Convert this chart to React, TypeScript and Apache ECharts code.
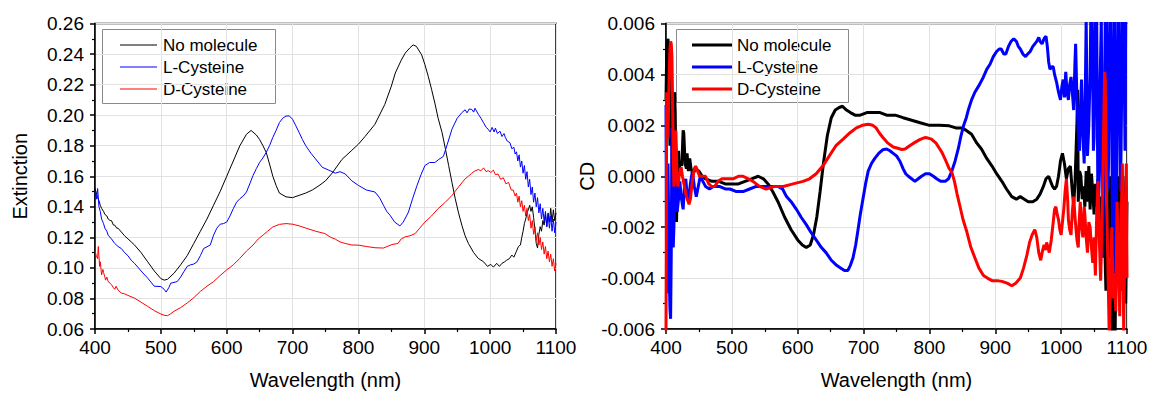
import React, { useEffect, useRef } from "react";
import * as echarts from "echarts";

const FONT = "Liberation Sans, Arial, sans-serif";

const seriesNames = ["No molecule", "L-Cysteine", "D-Cysteine"];
const seriesColors = ["#000000", "#0000ff", "#ff0000"];

const xTicks = { min: 400, max: 1100, interval: 100 };
const extTicks = { min: 0.06, max: 0.26, interval: 0.02 };
const cdTicks = { min: -0.006, max: 0.006, interval: 0.002 };

// Extinction spectra (wavelength nm, extinction)
const extNoMolecule: [number, number][] = [
  [400, 0.152], [402, 0.149], [404, 0.146], [406, 0.144], [408, 0.141], [410, 0.139], [413, 0.137], [415, 0.135], [418, 0.134],
  [420, 0.132], [423, 0.131], [425, 0.131], [428, 0.128], [430, 0.128], [433, 0.126], [435, 0.126], [440, 0.1235], [445, 0.121],
  [450, 0.119], [455, 0.117], [460, 0.115], [470, 0.11], [480, 0.104], [490, 0.098], [500, 0.093], [505, 0.092], [510, 0.0925],
  [520, 0.0965], [530, 0.102], [540, 0.108], [550, 0.116], [560, 0.124], [570, 0.132], [580, 0.141], [590, 0.15], [600, 0.16],
  [610, 0.17], [620, 0.18], [630, 0.1875], [637, 0.19], [645, 0.187], [650, 0.184], [655, 0.18], [660, 0.1756], [665, 0.168],
  [670, 0.16], [675, 0.154], [680, 0.149], [690, 0.1465], [700, 0.146], [710, 0.1475], [720, 0.149], [730, 0.151], [740, 0.1538],
  [750, 0.157], [760, 0.162], [775, 0.171], [790, 0.177], [800, 0.181], [810, 0.186], [825, 0.194], [840, 0.207], [850, 0.219],
  [856, 0.2276], [865, 0.236], [871, 0.2406], [878, 0.244], [883, 0.246], [888, 0.245], [896, 0.2395], [901, 0.233], [906, 0.2254],
  [911, 0.217], [916, 0.208], [921, 0.198], [927, 0.1886], [932, 0.178], [937, 0.167], [942, 0.156], [947, 0.1453], [952, 0.136],
  [957, 0.128], [962, 0.121], [967, 0.116], [975, 0.11], [982, 0.1062], [990, 0.104], [996, 0.101], [1001, 0.1023], [1005, 0.1005],
  [1010, 0.103], [1014, 0.101], [1018, 0.103], [1022, 0.104], [1025, 0.105], [1029, 0.106], [1033, 0.1084], [1036, 0.107],
  [1040, 0.111], [1043, 0.114], [1046, 0.115], [1048, 0.12], [1050, 0.124], [1052, 0.129], [1054, 0.132], [1056, 0.136],
  [1058, 0.138], [1060, 0.141], [1062, 0.137], [1064, 0.14], [1066, 0.133], [1068, 0.125], [1070, 0.116], [1072, 0.113],
  [1074, 0.122], [1076, 0.127], [1078, 0.124], [1080, 0.131], [1082, 0.128], [1084, 0.135], [1086, 0.127], [1088, 0.136],
  [1090, 0.13], [1092, 0.139], [1094, 0.13], [1096, 0.138], [1098, 0.131], [1100, 0.136],
];

const extLCysteine: [number, number][] = [
  [400, 0.15], [402, 0.145], [404, 0.152], [406, 0.14], [408, 0.137], [410, 0.132], [413, 0.129], [415, 0.126], [418, 0.124],
  [420, 0.1214], [425, 0.119], [430, 0.116], [435, 0.114], [440, 0.1127], [445, 0.11], [450, 0.108], [455, 0.105], [460, 0.103],
  [470, 0.098], [480, 0.0933], [490, 0.088], [500, 0.0878], [505, 0.086], [508, 0.0842], [512, 0.087], [515, 0.09], [520, 0.0905],
  [525, 0.0911], [530, 0.094], [535, 0.0976], [540, 0.101], [545, 0.102], [550, 0.1025], [555, 0.104], [560, 0.108], [565, 0.1127],
  [570, 0.1138], [575, 0.115], [580, 0.1214], [585, 0.126], [590, 0.1286], [595, 0.129], [600, 0.13], [605, 0.134], [610, 0.1388],
  [615, 0.143], [620, 0.1453], [625, 0.147], [630, 0.1497], [635, 0.155], [640, 0.1605], [645, 0.165], [650, 0.1691], [655, 0.172],
  [660, 0.1756], [665, 0.18], [670, 0.1854], [675, 0.19], [680, 0.1951], [685, 0.198], [690, 0.1994], [695, 0.1995], [700, 0.1973],
  [705, 0.193], [710, 0.1886], [715, 0.184], [720, 0.18], [728, 0.175], [735, 0.1713], [745, 0.1659], [755, 0.164], [765, 0.162],
  [772, 0.163], [780, 0.1615], [790, 0.157], [800, 0.154], [812, 0.151], [825, 0.1497], [832, 0.146], [838, 0.141], [843, 0.137],
  [848, 0.1345], [855, 0.13], [863, 0.1275], [868, 0.13], [873, 0.134], [876, 0.1366], [882, 0.145], [889, 0.154], [895, 0.161],
  [901, 0.167], [908, 0.169], [916, 0.169], [922, 0.171], [929, 0.173], [935, 0.181], [942, 0.1908], [950, 0.198], [957, 0.2016],
  [962, 0.2035], [965, 0.2015], [968, 0.204], [972, 0.2038], [975, 0.202], [977, 0.2045], [982, 0.2006], [986, 0.198], [990, 0.195],
  [994, 0.192], [997, 0.1908], [1000, 0.189], [1003, 0.192], [1006, 0.189], [1008, 0.1915], [1011, 0.188], [1015, 0.1895],
  [1018, 0.186], [1021, 0.188], [1023, 0.1855], [1026, 0.183], [1030, 0.182], [1033, 0.178], [1036, 0.179], [1038, 0.1745],
  [1040, 0.176], [1042, 0.17], [1044, 0.174], [1046, 0.166], [1048, 0.17], [1050, 0.162], [1052, 0.167], [1054, 0.158],
  [1056, 0.163], [1058, 0.153], [1060, 0.158], [1062, 0.148], [1064, 0.153], [1066, 0.143], [1068, 0.149], [1070, 0.14],
  [1072, 0.146], [1074, 0.136], [1076, 0.142], [1078, 0.132], [1080, 0.139], [1082, 0.13], [1084, 0.137], [1086, 0.127],
  [1088, 0.135], [1090, 0.126], [1092, 0.134], [1094, 0.124], [1096, 0.132], [1098, 0.123], [1100, 0.13],
];

const extDCysteine: [number, number][] = [
  [400, 0.111], [402, 0.108], [404, 0.106], [405, 0.114], [407, 0.101], [408, 0.104], [410, 0.0954], [412, 0.099], [413, 0.097],
  [415, 0.094], [416, 0.092], [418, 0.094], [420, 0.091], [423, 0.09], [425, 0.089], [428, 0.087], [430, 0.086], [432, 0.088],
  [435, 0.0855], [440, 0.0835], [445, 0.083], [450, 0.082], [460, 0.0802], [470, 0.0775], [480, 0.0748], [490, 0.072], [500, 0.0698],
  [505, 0.069], [510, 0.0687], [515, 0.07], [520, 0.0716], [530, 0.074], [540, 0.077], [550, 0.0805], [560, 0.0846], [570, 0.088],
  [580, 0.091], [590, 0.095], [600, 0.0987], [610, 0.102], [620, 0.1063], [630, 0.111], [640, 0.115], [648, 0.119], [655, 0.1214],
  [662, 0.124], [670, 0.1268], [680, 0.1285], [690, 0.129], [700, 0.1286], [710, 0.1275], [720, 0.1261], [735, 0.124], [749, 0.1225],
  [758, 0.12], [765, 0.1188], [772, 0.117], [780, 0.116], [790, 0.115], [800, 0.1149], [812, 0.114], [825, 0.1132], [838, 0.113],
  [851, 0.1153], [860, 0.116], [865, 0.119], [871, 0.1203], [878, 0.121], [886, 0.1224], [893, 0.126], [901, 0.13], [911, 0.134],
  [921, 0.1388], [932, 0.143], [942, 0.1474], [952, 0.153], [962, 0.1583], [967, 0.16], [972, 0.162], [977, 0.1635], [982, 0.1644],
  [986, 0.1635], [990, 0.1655], [994, 0.163], [997, 0.1637], [1001, 0.1625], [1005, 0.164], [1008, 0.161], [1012, 0.1615],
  [1016, 0.158], [1020, 0.159], [1024, 0.155], [1028, 0.156], [1032, 0.151], [1035, 0.151], [1038, 0.147],
  [1040, 0.149], [1042, 0.143], [1044, 0.147], [1046, 0.14], [1048, 0.144], [1050, 0.137], [1052, 0.141], [1054, 0.134],
  [1056, 0.139], [1058, 0.131], [1060, 0.135], [1062, 0.126], [1064, 0.131], [1066, 0.122], [1068, 0.127], [1070, 0.118],
  [1072, 0.123], [1074, 0.115], [1076, 0.12], [1078, 0.112], [1080, 0.117], [1082, 0.109], [1084, 0.114], [1086, 0.106],
  [1088, 0.111], [1090, 0.104], [1092, 0.109], [1094, 0.101], [1096, 0.106], [1098, 0.098], [1100, 0.103],
];

// CD spectra (wavelength nm, CD)
const cdNoMolecule: [number, number][] = [
  [400, 0.003], [401, 0.0048], [402, 0.0053], [403, 0.0054], [404, 0.005], [405, 0.003], [406, 0.0012], [407, 0.0036], [408, 0.004],
  [409, 0.0015], [410, -0.0008], [411, 0.001], [412, 0.003], [413, 0.0033], [414, 0.0025], [415, 0.0002], [416, -0.0018],
  [417, -0.0005], [418, 0.0008], [419, 0.001], [420, 0.0003], [422, 0.0006], [424, 0.0004], [426, 0.0018], [427, 0.0017],
  [429, 0.0005], [431, 0.0003], [432, 0.0009], [434, 0.0002], [436, 0.0007], [438, 0.0003], [441, 0.0001], [445, 0.0003],
  [450, 0.0002], [455, 0.0], [460, -0.0001], [470, -0.0002], [480, -0.0002], [490, -0.0003], [500, -0.0003], [510, -0.0003],
  [520, -0.0002], [530, -0.0001], [540, 0.0], [548, -0.0001], [555, -0.0003], [562, -0.0006], [570, -0.001], [580, -0.0016],
  [590, -0.0021], [600, -0.0025], [607, -0.0027], [613, -0.0028], [619, -0.0027], [624, -0.0023], [629, -0.0016], [634, -0.0006],
  [639, 0.0005], [645, 0.0016], [651, 0.0023], [657, 0.0026], [663, 0.0027], [668, 0.00275], [674, 0.0026], [680, 0.0025],
  [687, 0.0024], [695, 0.0024], [705, 0.0025], [715, 0.0025], [725, 0.0025], [735, 0.0024], [748, 0.0024], [760, 0.0023],
  [773, 0.0022], [786, 0.0021], [800, 0.002], [815, 0.002], [830, 0.00198], [840, 0.0019], [849, 0.0019], [856, 0.0018],
  [864, 0.00165], [872, 0.0013], [879, 0.00107], [887, 0.0007], [895, 0.0004], [902, 0.0001], [910, -0.0002], [917, -0.0005],
  [925, -0.0008], [932, -0.0009], [938, -0.0008], [944, -0.0009], [950, -0.001], [957, -0.001], [963, -0.0009], [968, -0.0007],
  [973, -0.0004], [977, -0.0001], [981, 0.0], [984, -0.0002], [987, -0.0004], [990, -0.0005], [993, -0.0004], [996, 0.0],
  [999, 0.0006], [1002, 0.0009], [1005, 0.0005], [1008, -0.0001], [1011, 0.0003], [1014, 0.0004], [1017, -0.0006], [1019, -0.0011],
  [1021, -0.0003], [1024, 0.0021], [1025, 0.0034], [1026, -0.001], [1028, 0.0002], [1030, 0.0], [1032, -0.0009], [1034, -0.0004],
  [1036, -0.0012], [1038, 0.0002], [1040, -0.001], [1042, 0.0004], [1044, -0.0013], [1046, 0.0001], [1048, -0.0006],
  [1050, -0.0015], [1052, -0.0003], [1054, -0.0012], [1056, -0.0001], [1058, -0.002], [1060, -0.0008], [1062, -0.003],
  [1064, 0.0008], [1066, -0.0024], [1068, -0.0045], [1070, -0.001], [1072, -0.0032], [1074, 0.0], [1076, -0.004], [1078, -0.0062],
  [1080, -0.002], [1082, -0.0062], [1084, -0.001], [1086, -0.0035], [1088, 0.0], [1090, -0.0015], [1092, -0.0045], [1094, 0.0],
  [1096, -0.002], [1098, -0.005], [1100, -0.001],
];

const cdLCysteine: [number, number][] = [
  [400, 0.0028], [401, -0.0046], [402, -0.002], [403, 0.0005], [404, -0.0015], [405, -0.004], [406, -0.0052], [407, -0.0056],
  [408, -0.003], [409, 0.0019], [410, 0.001], [411, -0.0028], [412, -0.002], [413, -0.0008], [414, 0.0002], [415, -0.0004],
  [417, -0.0014], [419, -0.0009], [421, -0.0002], [423, -0.0008], [426, -0.0013], [428, -0.0004], [430, -0.0001], [432, -0.0007],
  [434, -0.001], [437, -0.0003], [440, 0.0002], [443, -0.0004], [446, -0.0008], [449, -0.0004], [452, 0.0], [456, -0.0002],
  [460, -0.0004], [466, -0.0005], [472, -0.0004], [481, -0.0004], [490, -0.0005], [497, -0.0005], [507, -0.0006], [517, -0.0006],
  [527, -0.0005], [537, -0.0004], [547, -0.0004], [557, -0.0004], [570, -0.0004], [577, -0.0005], [583, -0.0008], [590, -0.001],
  [598, -0.0013], [605, -0.0016], [613, -0.0019], [620, -0.0022], [628, -0.0025], [636, -0.0028], [643, -0.003], [651, -0.0033],
  [659, -0.0035], [665, -0.0036], [671, -0.0037], [676, -0.0037], [680, -0.0035], [684, -0.0032], [688, -0.0027], [691, -0.0022],
  [695, -0.0015], [699, -0.0009], [703, -0.0003], [707, 0.0002], [712, 0.0005], [717, 0.0007], [723, 0.0009], [729, 0.00104],
  [735, 0.00107], [740, 0.001], [745, 0.0009], [750, 0.0008], [755, 0.0006], [760, 0.0003], [764, 0.0001], [768, 0.0],
  [773, -0.0001], [778, -0.0002], [783, -0.0001], [788, 0.0], [794, 0.0001], [800, 0.0001], [806, 0.0], [811, -0.0001],
  [817, -0.0002], [824, -0.0002], [829, -0.0001], [834, 0.0002], [839, 0.0006], [844, 0.0011], [848, 0.0016], [852, 0.002],
  [856, 0.0023], [859, 0.0026], [864, 0.003], [869, 0.0033], [876, 0.0036], [882, 0.0039], [887, 0.0042], [892, 0.0044],
  [897, 0.0047], [902, 0.0049], [906, 0.005], [909, 0.005], [913, 0.0048], [916, 0.0048], [920, 0.0051], [924, 0.0053],
  [928, 0.0054], [932, 0.0053], [935, 0.0051], [938, 0.005], [942, 0.0048], [946, 0.0047], [949, 0.0048], [953, 0.0049],
  [957, 0.0051], [960, 0.0052], [963, 0.0053], [966, 0.00545], [968, 0.0053], [971, 0.0052], [974, 0.0054], [977, 0.0055],
  [979, 0.0051], [981, 0.0045], [983, 0.0042], [986, 0.0043], [988, 0.0043], [990, 0.004], [993, 0.0037], [996, 0.0033],
  [999, 0.003], [1001, 0.0035], [1003, 0.0038], [1005, 0.0031], [1007, 0.0041], [1009, 0.0033], [1011, 0.003], [1013, 0.0036],
  [1015, 0.0039], [1017, 0.0033], [1019, 0.0026], [1021, 0.0045], [1022, 0.0052], [1024, 0.003], [1026, 0.0018], [1028, 0.001],
  [1029, 0.0025], [1031, 0.0038], [1033, 0.0016], [1035, 0.0005], [1037, 0.004], [1038, 0.0062], [1040, 0.0008], [1042, 0.002],
  [1044, 0.004], [1045, 0.0062], [1047, 0.0062], [1049, 0.001], [1050, 0.0015], [1052, 0.0062], [1054, 0.0062], [1056, -0.0017],
  [1058, 0.0005], [1059, 0.0035], [1061, 0.0062], [1063, -0.0032], [1065, 0.0015], [1067, 0.0062], [1069, 0.0062],
  [1071, -0.0005], [1072, 0.0005], [1074, 0.0062], [1076, 0.0062], [1078, -0.0022], [1080, 0.003], [1081, 0.0062],
  [1083, -0.0041], [1084, -0.001], [1086, 0.0062], [1088, 0.0062], [1090, -0.0006], [1091, 0.001], [1093, 0.0062],
  [1095, 0.0062], [1097, 0.001], [1098, 0.0062], [1100, 0.0062],
];

const cdDCysteine: [number, number][] = [
  [400, -0.0062], [400.5, -0.002], [401, 0.0033], [402, 0.003], [403, 0.0015], [404, 0.0028], [405, 0.0042], [406, 0.005],
  [407, 0.0053], [408, 0.0052], [409, 0.0047], [410, 0.003], [411, 0.0008], [412, -0.0004], [413, 0.0008], [414, 0.0017],
  [415, 0.0018], [416, 0.0008], [417, -0.0002], [418, -0.0004], [420, 0.0], [423, 0.00035], [425, 0.0], [428, -0.0004],
  [431, -0.0008], [435, -0.0011], [437, -0.0009], [440, -0.0002], [443, 0.0003], [445, 0.0004], [448, 0.0002], [451, 0.0],
  [455, 0.0], [460, 0.0], [465, -0.0003], [469, -0.0004], [474, -0.0004], [479, -0.0002], [485, -0.0001], [491, -0.0001],
  [502, -0.0001], [510, 0.0], [517, 0.0], [525, -0.0001], [532, -0.0002], [542, -0.0004], [552, -0.0005], [565, -0.0004],
  [578, -0.0004], [593, -0.0003], [608, -0.0002], [618, -0.0001], [628, 0.0001], [638, 0.0004], [648, 0.0008], [658, 0.0012],
  [669, 0.00146], [679, 0.0017], [689, 0.0019], [698, 0.002], [707, 0.00204], [714, 0.002], [719, 0.0019], [724, 0.0017],
  [730, 0.0015], [737, 0.0013], [745, 0.00115], [752, 0.0011], [758, 0.00105], [763, 0.00107], [770, 0.0012], [778, 0.00133],
  [786, 0.00145], [793, 0.00152], [798, 0.0015], [803, 0.00146], [810, 0.0013], [815, 0.0011], [819, 0.00094], [825, 0.0006],
  [830, 0.0003], [834, 0.00016], [838, -0.0002], [842, -0.0007], [846, -0.00114], [851, -0.0017], [857, -0.0022], [863, -0.0028],
  [869, -0.0032], [875, -0.0036], [882, -0.0039], [888, -0.004], [895, -0.0041], [903, -0.0041], [910, -0.00413], [918, -0.0042],
  [925, -0.0043], [931, -0.0042], [938, -0.004], [943, -0.0036], [948, -0.0031], [952, -0.0026], [956, -0.0023], [960, -0.0021],
  [963, -0.0024], [966, -0.003], [969, -0.0033], [972, -0.0029], [974, -0.0027], [976, -0.0029], [978, -0.0026], [980, -0.0028],
  [982, -0.003], [985, -0.0025], [988, -0.0018], [990, -0.0013], [992, -0.0012], [994, -0.0015], [996, -0.0017], [998, -0.0021],
  [1000, -0.0023], [1002, -0.0018], [1004, -0.0013], [1006, -0.0006], [1008, -0.0001], [1010, -0.001], [1011, -0.0017],
  [1013, -0.0021], [1015, -0.0023], [1017, -0.0014], [1019, -0.0008], [1021, -0.0016], [1022, -0.0019], [1024, -0.0025],
  [1026, -0.0028], [1027, -0.002], [1029, -0.001], [1031, -0.002], [1033, -0.0024], [1035, -0.0012], [1036, -0.0015],
  [1038, -0.0024], [1040, -0.003], [1042, -0.0018], [1044, -0.002], [1046, -0.0028], [1048, -0.0034], [1050, -0.0024],
  [1052, -0.0039], [1054, -0.0015], [1056, -0.0002], [1058, -0.0025], [1060, -0.0041], [1062, -0.0018], [1064, 0.001],
  [1066, 0.0041], [1067, 0.0038], [1069, -0.0008], [1071, -0.0035], [1073, -0.0062], [1075, -0.004], [1077, -0.002],
  [1079, -0.0048], [1081, -0.0038], [1083, -0.0053], [1085, -0.001], [1087, -0.003], [1089, -0.0055], [1091, -0.002],
  [1093, 0.0005], [1095, -0.0062], [1097, -0.002], [1099, 0.0005], [1100, -0.004],
];

const extData = [extNoMolecule, extLCysteine, extDCysteine];
const cdData = [cdNoMolecule, cdLCysteine, cdDCysteine];

function xAxisFor(gridIndex: number) {
  return {
    gridIndex,
    type: "value",
    min: xTicks.min,
    max: xTicks.max,
    interval: xTicks.interval,
    name: "Wavelength (nm)",
    nameLocation: "middle",
    nameGap: 41,
    nameTextStyle: { fontSize: 20, color: "#000", fontFamily: FONT },
    axisLine: { onZero: false, lineStyle: { color: "#000", width: 1.5 } },
    axisTick: { show: true, inside: false, length: 5, lineStyle: { color: "#000", width: 1.5 } },
    minorTick: { show: true, splitNumber: 2, length: 3, lineStyle: { color: "#000", width: 1.2 } },
    axisLabel: { fontSize: 19, color: "#000", fontFamily: FONT, margin: 9, formatter: (v: number) => String(v) },
    splitLine: { show: true, lineStyle: { color: "#e2e2e2", width: 1 } },
  };
}

function yAxisFor(gridIndex: number, t: { min: number; max: number; interval: number }, name: string, digits: number, nameGap: number) {
  return {
    gridIndex,
    type: "value",
    min: t.min,
    max: t.max,
    interval: t.interval,
    name,
    nameLocation: "middle",
    nameGap,
    nameTextStyle: { fontSize: 20, color: "#000", fontFamily: FONT },
    axisLine: { onZero: false, lineStyle: { color: "#000", width: 1.5 } },
    axisTick: { show: true, inside: false, length: 5, lineStyle: { color: "#000", width: 1.5 } },
    minorTick: { show: true, splitNumber: 2, length: 3, lineStyle: { color: "#000", width: 1.2 } },
    axisLabel: {
      fontSize: 19,
      color: "#000",
      fontFamily: FONT,
      margin: 11,
      formatter: (v: number) => (Math.abs(v) < 1e-12 ? 0 : v).toFixed(digits),
    },
    splitLine: { show: true, lineStyle: { color: "#e2e2e2", width: 1 } },
  };
}

function legendGraphic(x: number, y: number, w: number, h: number, lx1: number, lx2: number, tx: number, lw: number) {
  const rows = [45, 67, 89];
  const children: any[] = [
    { type: "rect", shape: { x: x + 0.5, y: y + 0.5, width: w, height: h }, style: { fill: "#fff", stroke: "#8a8a8a", lineWidth: 1 } },
  ];
  seriesNames.forEach((name, i) => {
    children.push({
      type: "line",
      shape: { x1: lx1, y1: rows[i], x2: lx2, y2: rows[i] },
      style: { stroke: seriesColors[i], lineWidth: lw },
    });
    children.push({
      type: "text",
      x: tx,
      y: rows[i],
      style: { text: name, fontSize: 17, fontFamily: FONT, fill: "#000", align: "left", verticalAlign: "middle" },
    });
  });
  return { type: "group", z: 100, children };
}

export default function App() {
  const ref = useRef<HTMLDivElement>(null);
  useEffect(() => {
    if (!ref.current) return;
    const chart = echarts.init(ref.current, undefined, { renderer: "svg" });
    const series: any[] = [];
    extData.forEach((d, i) => {
      series.push({
        type: "line",
        name: seriesNames[i],
        xAxisIndex: 0,
        yAxisIndex: 0,
        data: d,
        showSymbol: false,
        symbol: "none",
        clip: true,
        color: seriesColors[i],
        lineStyle: { width: 1, color: seriesColors[i] },
      });
    });
    cdData.forEach((d, i) => {
      series.push({
        type: "line",
        name: seriesNames[i],
        xAxisIndex: 1,
        yAxisIndex: 1,
        data: d,
        showSymbol: false,
        symbol: "none",
        clip: true,
        color: seriesColors[i],
        lineStyle: { width: 3, color: seriesColors[i] },
      });
    });
    chart.setOption({
      animation: false,
      backgroundColor: "#fff",
      textStyle: { fontFamily: FONT },
      grid: [
        { left: 95, top: 23.5, width: 461, height: 308, show: true, borderColor: "#000", borderWidth: 1.5, backgroundColor: "transparent" },
        { left: 666, top: 23.5, width: 461, height: 308, show: true, borderColor: "#000", borderWidth: 1.5, backgroundColor: "transparent" },
      ],
      xAxis: [xAxisFor(0), xAxisFor(1)],
      yAxis: [yAxisFor(0, extTicks, "Extinction", 2, 65), yAxisFor(1, cdTicks, "CD", 3, 58)],
      graphic: [legendGraphic(102, 29, 173, 74, 120, 157, 163, 1), legendGraphic(676, 29, 172, 73, 692, 732, 737, 3)],
      series,
    });
    return () => chart.dispose();
  }, []);
  return (
    <div
      ref={ref}
      style={{ position: "fixed", left: 0, top: 0, width: 1151, height: 395, background: "#fff" }}
    />
  );
}
